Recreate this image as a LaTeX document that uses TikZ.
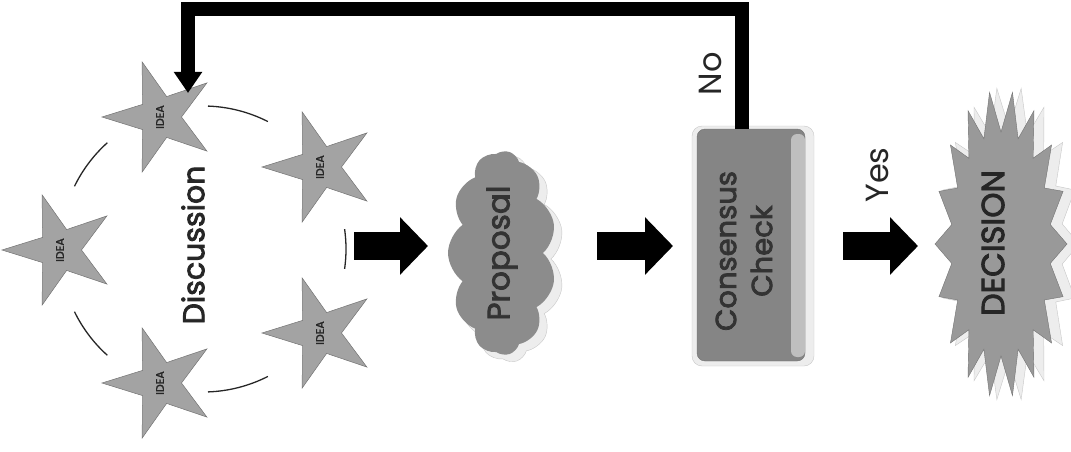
\documentclass[tikz,border=0pt]{standalone}
\usepackage{fontspec}
\setmainfont{Poppins}
\newfontfamily\popsemi{Poppins}[FakeBold=2.6]
\usetikzlibrary{shapes.geometric,shapes.symbols,arrows.meta,calc}
\begin{document}
\begin{tikzpicture}[x=1pt,y=-1pt,
  idea/.style={star, star points=5, star point ratio=2.7, minimum size=116pt,
    rotate=90, fill=black!36, draw=black!55, line width=0.5pt, inner sep=0pt,
    text=black!85, font=\fontsize{11}{11}\selectfont\popsemi},
  ring/.style={line width=1.3pt, black!85},
  blockarrow/.style={line width=28pt, -{Triangle[length=28pt,width=56pt]}},
  loopline/.style={line width=14pt, line join=miter, -{Triangle[length=21pt,width=27pt]}},
  bigtext/.style={rotate=90, text=black!85, font=\fontsize{32}{32}\selectfont},
  glow/.style={fill=black!7, draw=black!22, line width=0.4pt},
]
\useasboundingbox (0,0) rectangle (1071,452);

% --- Discussion ring ---
\coordinate (rc) at (203,249);
\draw[ring] (rc) ++(-63:143) arc[start angle=-63, end angle=-88, radius=143];
\draw[ring] (rc) ++(-132:143) arc[start angle=-132, end angle=-154, radius=143];
\draw[ring] (rc) ++(-206:143) arc[start angle=-206, end angle=-228, radius=143];
\draw[ring] (rc) ++(-272:143) arc[start angle=-272, end angle=-297, radius=143];
\draw[ring] (rc) ++(8:143) arc[start angle=8, end angle=-8, radius=143];

\node[idea] (s1) at (160,117) {IDEA};
\node[idea] (s2) at (60,250) {IDEA};
\node[idea] (s3) at (160,383) {IDEA};
\node[idea] (s4) at (320,167) {IDEA};
\node[idea] (s5) at (320,333) {IDEA};

\node[bigtext, font=\fontsize{30}{30}\selectfont\popsemi] (disc) at (193,245) {Discussion};

% --- Proposal cloud ---
\node[cloud, cloud puffs=11, cloud puff arc=110, cloud ignores aspect,
  minimum width=206pt, minimum height=110pt, rotate=90, glow] (propglow) at (509,259) {};
\node[cloud, cloud puffs=11, cloud puff arc=110, cloud ignores aspect,
  minimum width=204pt, minimum height=108pt, rotate=90, fill=black!45,
  text=black!80, font=\fontsize{31}{31}\selectfont\popsemi] (prop) at (502,253) {Proposal};

% --- Consensus check ---
\node[rectangle, rounded corners=10pt, minimum width=240pt, minimum height=122pt,
  rotate=90, glow] (consglow) at (753,246) {};
\node[rectangle, rounded corners=8pt, minimum width=232pt, minimum height=108pt,
  rotate=90, fill=black!48, draw=black!55, line width=0.4pt] (consbox) at (751,245) {};
\fill[black!25, rounded corners=6pt] (791,134) rectangle (805,357);
\node[rotate=90, align=center, text=black!80,
  font=\fontsize{29}{36}\selectfont\popsemi] (cons) at (744,251) {Consensus\\Check};

% --- Decision starburst ---
\path[glow] plot[samples at={0,10,...,350}, variable=\a]
  ({1009+(mod(\a,20)==0 ? 70 : 54)*cos(\a)}, {244+(mod(\a,20)==0 ? 158 : 116)*sin(\a)}) -- cycle;
\path[fill=black!40, draw=black!55, line width=0.4pt] plot[samples at={0,10,...,350}, variable=\a]
  ({1001+(mod(\a,20)==0 ? 66 : 50)*cos(\a)}, {244+(mod(\a,20)==0 ? 154 : 112)*sin(\a)}) -- cycle;
\node[bigtext, font=\fontsize{32}{32}\selectfont\popsemi] (dec) at (993,243) {DECISION};

% --- block arrows ---
\coordinate (a1s) at (354,246); \coordinate (a1e) at (428,246);
\coordinate (a2s) at (597,246); \coordinate (a2e) at (673,246);
\coordinate (a3s) at (843,246); \coordinate (a3e) at (918,246);
\draw[blockarrow] (a1s) -- (a1e);
\draw[blockarrow] (a2s) -- (a2e);
\draw[blockarrow] (a3s) -- (a3e);

% --- feedback loop ---
\coordinate (lp1) at (742,9);
\coordinate (lp2) at (188,9);
\coordinate (lp3) at (188,93);
\draw[loopline] ([xshift=-9pt]consbox.east) -- (lp1) -- (lp2) -- (lp3);

\node[bigtext] (no) at (710,74) {No};
\node[bigtext] (yes) at (877,175) {Yes};
\end{tikzpicture}
\end{document}
